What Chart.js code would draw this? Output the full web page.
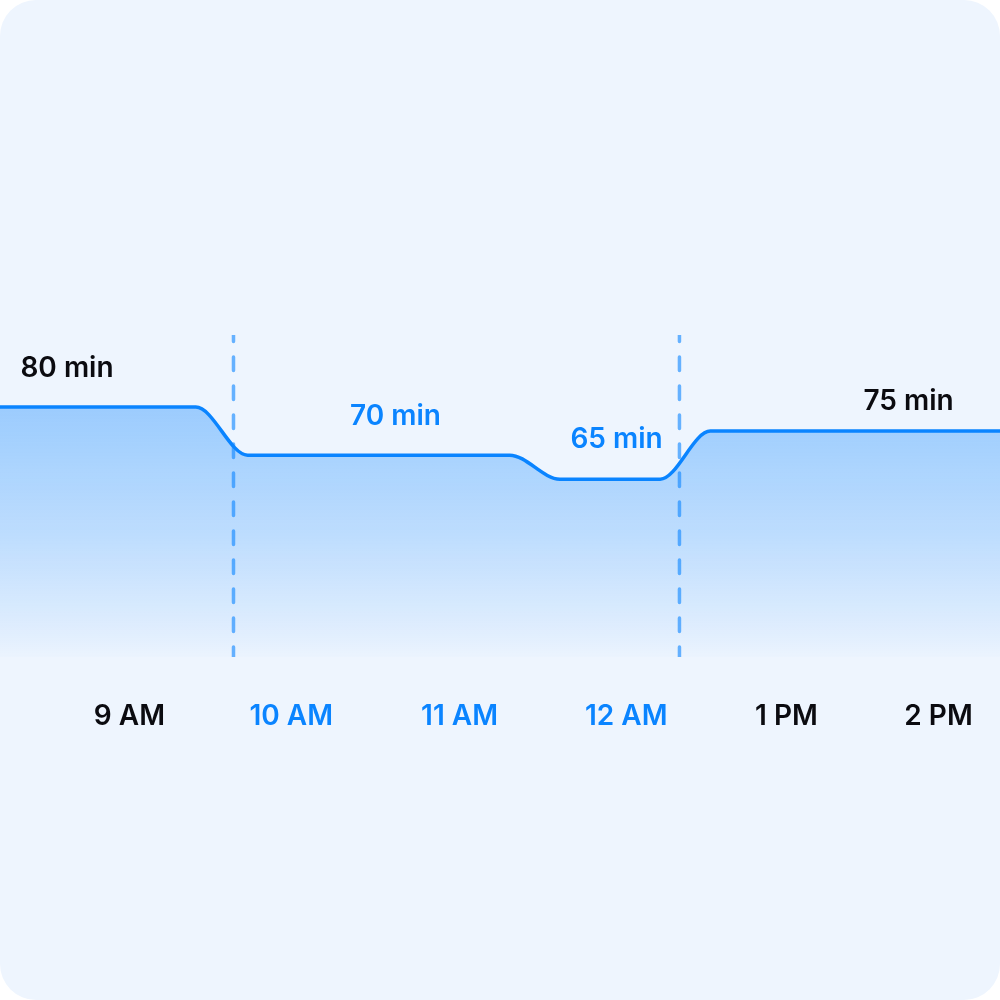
<!DOCTYPE html>
<html><head><meta charset="utf-8">
<script src="https://cdn.jsdelivr.net/npm/chart.js@4.4.0/dist/chart.umd.min.js"></script>
<style>
html,body{margin:0;padding:0;background:#ffffff;}
#card{position:absolute;left:0;top:0;width:1000px;height:1000px;border-radius:36px;background:#EEF5FE;overflow:hidden;}
canvas{display:block;}
</style></head><body>
<div id="card"><canvas id="c" width="1000" height="1000"></canvas></div>
<script>
// ---- data (time in hours of the day, wait in minutes) ----
const timeHours   = [8.2, 9.41, 9.73, 11.35, 11.66, 12.28, 12.59, 14.38];
const waitMinutes = [80, 80, 70, 70, 65, 65, 75, 75];
const tickHours   = [9, 10, 11.04, 12.07, 13.06, 14];
const tickLabels  = ['9 AM', '10 AM', '11 AM', '12 AM', '1 PM', '2 PM'];
const levelLabels  = ['80 min', '70 min', '65 min', '75 min'];
const levelMinutes = [80, 70, 65, 75];
const levelHours   = [8.614, 10.644, 12.01, 13.815];
const markerHours  = [9.643, 12.399];

const BLUE = '#0A84FF';
const BLACK = '#0B0B10';
const FONT = 'Inter, "Noto Sans", sans-serif';
const highlightTicks = [1, 2, 3];
const highlightLevels = [1, 2];
const levelOffsets = [40, 40, 41, 31];

const markerPlugin = {
  id: 'markers',
  afterDatasetsDraw(chart) {
    const {ctx, chartArea, scales} = chart;
    ctx.save();
    ctx.beginPath();
    ctx.rect(chartArea.left, chartArea.top, chartArea.right - chartArea.left, chartArea.bottom - chartArea.top);
    ctx.clip();
    ctx.strokeStyle = 'rgba(10,132,255,0.6)';
    ctx.lineWidth = 3.5;
    ctx.lineCap = 'round';
    ctx.setLineDash([13.5, 15.5]);
    markerHours.forEach(h => {
      const x = scales.x.getPixelForValue(h);
      ctx.beginPath();
      ctx.moveTo(x, chartArea.top - 7);
      ctx.lineTo(x, chartArea.bottom + 10);
      ctx.stroke();
    });
    ctx.restore();
  }
};

const levelPlugin = {
  id: 'levels',
  afterDatasetsDraw(chart) {
    const {ctx, scales} = chart;
    ctx.save();
    ctx.font = '600 28px ' + FONT;
    ctx.textAlign = 'center';
    ctx.textBaseline = 'middle';
    levelLabels.forEach((t, i) => {
      ctx.fillStyle = highlightLevels.includes(i) ? BLUE : BLACK;
      ctx.fillText(t, scales.x.getPixelForValue(levelHours[i]), scales.y.getPixelForValue(levelMinutes[i]) - levelOffsets[i] + 1);
    });
    ctx.restore();
  }
};

new Chart(document.getElementById('c'), {
  type: 'line',
  data: {
    datasets: [{
      data: timeHours.map((h, i) => ({x: h, y: waitMinutes[i]})),
      borderColor: BLUE,
      borderWidth: 3.5,
      pointRadius: 0,
      cubicInterpolationMode: 'monotone',
      fill: 'start',
      backgroundColor: (c) => {
        const ca = c.chart.chartArea;
        if (!ca) return 'rgba(10,132,255,0.3)';
        const top = c.chart.scales.y.getPixelForValue(80);
        const g = c.chart.ctx.createLinearGradient(0, top, 0, ca.bottom + 6);
        g.addColorStop(0, 'rgba(10,132,255,0.36)');
        g.addColorStop(0.5, 'rgba(10,132,255,0.21)');
        g.addColorStop(0.85, 'rgba(10,132,255,0.07)');
        g.addColorStop(1, 'rgba(10,132,255,0)');
        return g;
      }
    }]
  },
  options: {
    responsive: false,
    animation: false,
    layout: {padding: {top: 335, bottom: 243, left: 0, right: 0}, autoPadding: false},
    plugins: {legend: {display: false}, tooltip: {enabled: false}},
    scales: {
      x: {
        type: 'linear', min: 8.2, max: 14.38,
        grid: {display: false, drawTicks: true, tickLength: 43},
        border: {display: false},
        afterBuildTicks: (a) => { a.ticks = tickHours.map(v => ({value: v})); },
        afterFit: (s) => { s.height = 100; s.paddingLeft = 0; s.paddingRight = 0; },
        ticks: {
          autoSkip: false, maxRotation: 0, padding: 0,
          font: {family: FONT, size: 28, weight: '600'},
          color: (c) => highlightTicks.includes(c.index) ? BLUE : BLACK,
          callback: (v, i) => tickLabels[i]
        }
      },
      y: {display: false, min: 28, max: 95}
    }
  },
  plugins: [markerPlugin, levelPlugin]
});
</script>
</body></html>
